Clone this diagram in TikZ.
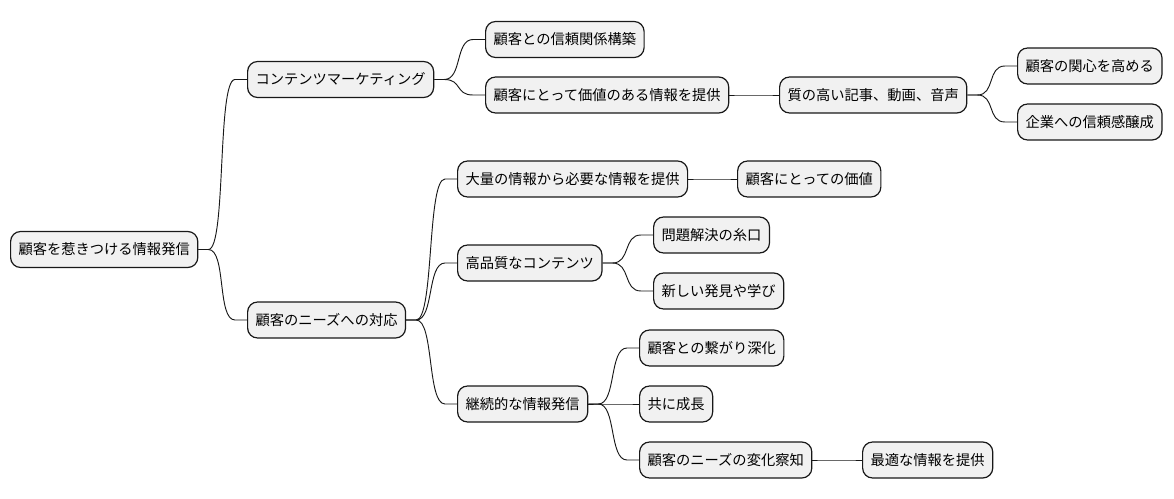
\documentclass[tikz,border=0pt]{standalone}
\usepackage{fontspec}
\setmainfont{Noto Sans CJK JP}
\usepackage{xcolor}
\usetikzlibrary{calc, positioning}
\definecolor{boxfill}{HTML}{F1F1F1}
\definecolor{boxline}{HTML}{181818}

\begin{document}
\begin{tikzpicture}[x=0.75pt, y=-0.75pt,
    topic/.style={draw=boxline, line width=0.9pt, fill=boxfill, rounded corners=7.5pt,
        anchor=west, minimum height=27pt, inner xsep=6pt, inner ysep=2pt,
        font=\fontsize{10.7}{12.5}\selectfont},
    link/.style={line width=0.7pt, boxline,
        to path={-- ++(10,0) .. controls +(18,0) and +(-18,0) .. ($(\tikztotarget)+(-12,0)$) -- (\tikztotarget)}}]
    \useasboundingbox (0,0) rectangle (1174,499);

    % Mittelpunkt
    \node[topic] (root) at (10,249.5) {顧客を惹きつける情報発信};

    % Ast 1: Marketing
    \node[topic] (marketing) at (247,79.5) {コンテンツマーケティング};
    \node[topic] (trust) at (485,39.5) {顧客との信頼関係構築};
    \node[topic] (value) at (485,95) {顧客にとって価値のある情報を提供};
    \node[topic] (media) at (779,95) {質の高い記事、動画、音声};
    \node[topic] (interest) at (1017,66) {顧客の関心を高める};
    \node[topic] (confidence) at (1017,122) {企業への信頼感醸成};

    % Ast 2: Bedürfnisse
    \node[topic] (needs) at (247,320) {顧客のニーズへの対応};
    \node[topic] (select) at (457,179) {大量の情報から必要な情報を提供};
    \node[topic] (worth) at (737,179) {顧客にとっての価値};
    \node[topic] (quality) at (457,263) {高品質なコンテンツ};
    \node[topic] (solve) at (653,235) {問題解決の糸口};
    \node[topic] (learn) at (653,291) {新しい発見や学び};
    \node[topic] (continuous) at (457,404) {継続的な情報発信};
    \node[topic] (bond) at (639,348) {顧客との繋がり深化};
    \node[topic] (grow) at (639,404) {共に成長};
    \node[topic] (change) at (639,460) {顧客のニーズの変化察知};
    \node[topic] (optimal) at (862,460) {最適な情報を提供};

    % Verbindungen
    \draw[link] (root.east) to (marketing.west);
    \draw[link] (root.east) to (needs.west);
    \draw[link] (marketing.east) to (trust.west);
    \draw[link] (marketing.east) to (value.west);
    \draw[link] (value.east) to (media.west);
    \draw[link] (media.east) to (interest.west);
    \draw[link] (media.east) to (confidence.west);
    \draw[link] (needs.east) to (select.west);
    \draw[link] (needs.east) to (quality.west);
    \draw[link] (needs.east) to (continuous.west);
    \draw[link] (select.east) to (worth.west);
    \draw[link] (quality.east) to (solve.west);
    \draw[link] (quality.east) to (learn.west);
    \draw[link] (continuous.east) to (bond.west);
    \draw[link] (continuous.east) to (grow.west);
    \draw[link] (continuous.east) to (change.west);
    \draw[link] (change.east) to (optimal.west);
\end{tikzpicture}
\end{document}
